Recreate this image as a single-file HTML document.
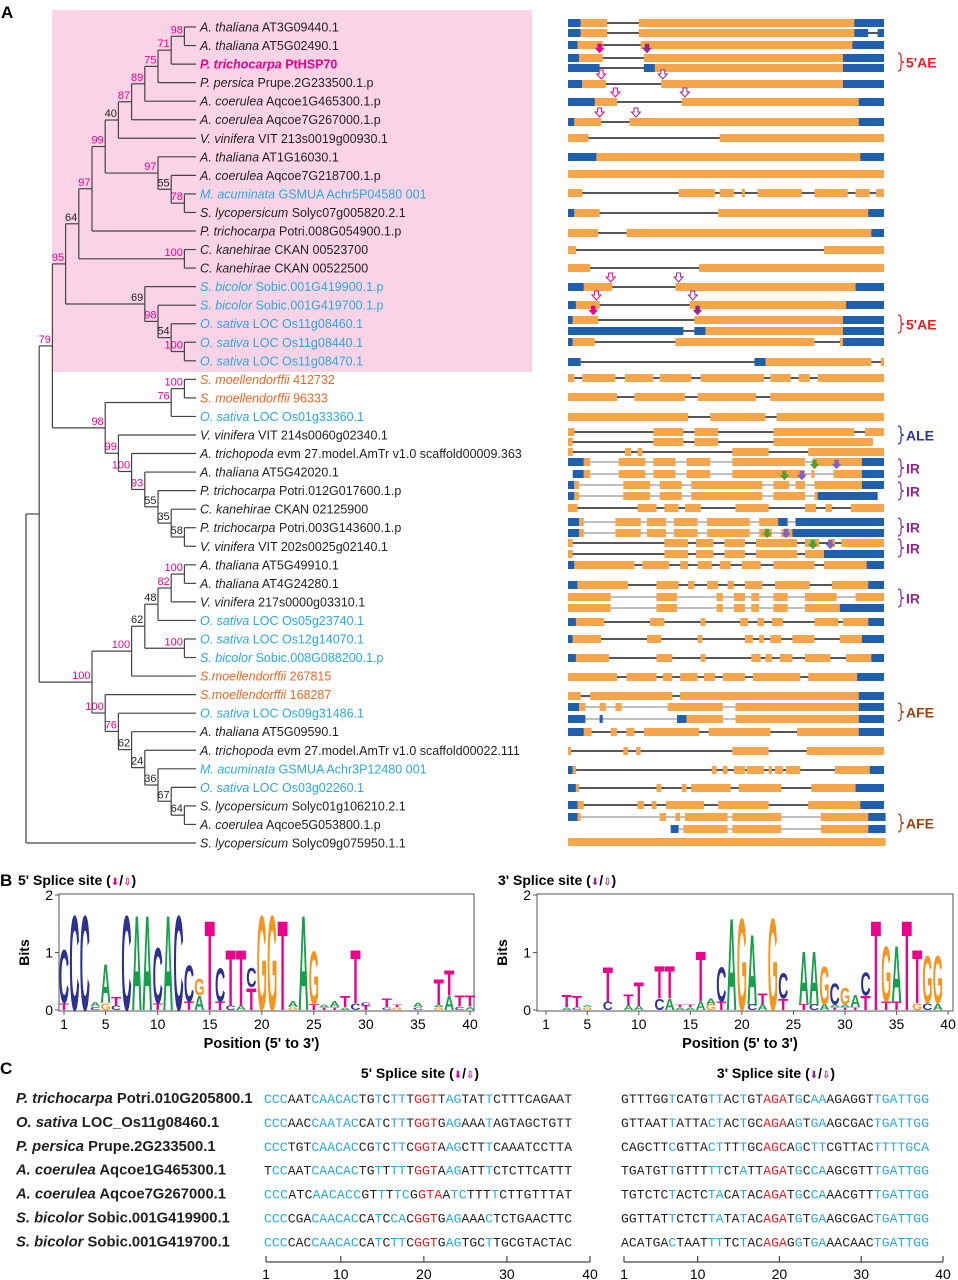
<!DOCTYPE html>
<html><head><meta charset="utf-8"><style>
html,body{margin:0;padding:0;background:#fff;}
svg{display:block;font-family:"Liberation Sans",sans-serif;}
</style></head><body>
<svg id="fig" width="958" height="1280" viewBox="0 0 958 1280" xmlns="http://www.w3.org/2000/svg">
<rect x="52" y="10" width="480" height="362" fill="#fad4e6"/>
<text x="1" y="18" font-size="17" font-weight="bold">A</text>
<g id="tree"></g>
<g id="genes"></g>
<g id="annots"></g>
<text x="0" y="886" font-size="17" font-weight="bold">B</text>
<text x="18" y="885" font-size="14" font-weight="bold">5' Splice site (<tspan fill="#ec008c" font-family="DejaVu Sans" font-size="10">⬇</tspan>/<tspan fill="#ec008c" font-family="DejaVu Sans" font-size="10">⇩</tspan>)</text>
<text x="498" y="885" font-size="14" font-weight="bold">3' Splice site (<tspan fill="#92278f" font-family="DejaVu Sans" font-size="10">⬇</tspan>/<tspan fill="#92278f" font-family="DejaVu Sans" font-size="10">⇩</tspan>)</text>
<g id="logo1"></g>
<g id="logo2"></g>
<text x="0" y="1074" font-size="17" font-weight="bold">C</text>
<text x="420" y="1078" font-size="14" font-weight="bold" text-anchor="middle">5' Splice site (<tspan fill="#ec008c" font-family="DejaVu Sans" font-size="10">⬇</tspan>/<tspan fill="#ec008c" font-family="DejaVu Sans" font-size="10">⇩</tspan>)</text>
<text x="776" y="1078" font-size="14" font-weight="bold" text-anchor="middle">3' Splice site (<tspan fill="#92278f" font-family="DejaVu Sans" font-size="10">⬇</tspan>/<tspan fill="#92278f" font-family="DejaVu Sans" font-size="10">⇩</tspan>)</text>
<g id="seqs"></g>
</svg>
<script>
const NS="http://www.w3.org/2000/svg";
function mk(parent,tag,attrs,txt){const e=document.createElementNS(NS,tag);for(const k in attrs)e.setAttribute(k,attrs[k]);if(txt!==undefined)e.textContent=txt;parent.appendChild(e);return e;}

// ---------- TREE DATA ----------
const leafSpecies=["A. thaliana","A. thaliana","P. trichocarpa","P. persica","A. coerulea","A. coerulea","V. vinifera","A. thaliana","A. coerulea","M. acuminata","S. lycopersicum","P. trichocarpa","C. kanehirae","C. kanehirae","S. bicolor","S. bicolor","O. sativa","O. sativa","O. sativa","S. moellendorffii","S. moellendorffii","O. sativa","V. vinifera","A. trichopoda","A. thaliana","P. trichocarpa","C. kanehirae","P. trichocarpa","V. vinifera","A. thaliana","A. thaliana","V. vinifera","O. sativa","O. sativa","S. bicolor","S.moellendorffii","S.moellendorffii","O. sativa","A. thaliana","A. trichopoda","M. acuminata","O. sativa","S. lycopersicum","A. coerulea","S. lycopersicum"];
const leafIds=["AT3G09440.1","AT5G02490.1","PtHSP70","Prupe.2G233500.1.p","Aqcoe1G465300.1.p","Aqcoe7G267000.1.p","VIT 213s0019g00930.1","AT1G16030.1","Aqcoe7G218700.1.p","GSMUA Achr5P04580 001","Solyc07g005820.2.1","Potri.008G054900.1.p","CKAN 00523700","CKAN 00522500","Sobic.001G419900.1.p","Sobic.001G419700.1.p","LOC Os11g08460.1","LOC Os11g08440.1","LOC Os11g08470.1","412732","96333","LOC Os01g33360.1","VIT 214s0060g02340.1","evm 27.model.AmTr v1.0 scaffold00009.363","AT5G42020.1","Potri.012G017600.1.p","CKAN 02125900","Potri.003G143600.1.p","VIT 202s0025g02140.1","AT5G49910.1","AT4G24280.1","217s0000g03310.1","LOC Os05g23740.1","LOC Os12g14070.1","Sobic.008G088200.1.p","267815","168287","LOC Os09g31486.1","AT5G09590.1","evm 27.model.AmTr v1.0 scaffold00022.111","GSMUA Achr3P12480 001","LOC Os03g02260.1","Solyc01g106210.2.1","Aqcoe5G053800.1.p","Solyc09g075950.1.1"];
const leafGroup=("kkpkkkkkkb"+"kkkkbbbbbo"+"obkkkkkkkk"+"kkbbboobkk"+"bbkkk").split("");
// [firstLeaf, lastLeaf, depthLevel, bootstrap]
const treeNodes=[[0,44,0,""],[0,43,1,""],[0,28,2,"79"],[0,18,3,"95"],[0,13,4,"64"],[0,11,5,"97"],[0,10,6,"99"],[0,6,7,"40"],[0,5,8,"87"],[0,4,9,"89"],[0,3,10,"75"],[0,2,11,"71"],[0,1,12,"98"],[7,10,10,"97"],[8,10,11,"55"],[9,10,12,"78"],[12,13,12,"100"],[14,18,9,"69"],[15,18,10,"98"],[16,18,11,"54"],[17,18,12,"100"],[19,28,6,"98"],[19,21,11,"76"],[19,20,12,"100"],[22,28,7,"99"],[23,28,8,"100"],[24,28,9,"93"],[25,28,10,"55"],[26,28,11,"35"],[27,28,12,"58"],[29,43,5,"100"],[29,35,8,"100"],[29,34,9,"62"],[29,32,10,"48"],[29,31,11,"82"],[29,30,12,"100"],[33,34,12,"100"],[36,43,6,"100"],[37,43,7,"76"],[38,43,8,"62"],[39,43,9,"24"],[40,43,10,"36"],[41,43,11,"67"],[42,43,12,"64"]];

const leafY=i=>27+i*18.545;
const depthX=l=>26+l*13.2;
const LEAFX=196;
(function(){
  const g=document.getElementById('tree');
  const colors={k:"#231f20",p:"#ec008c",b:"#27aae1",o:"#f26522"};
  function children(n){
    const ch=[];let i=n[0];
    while(i<=n[1]){
      let best=null;
      for(const m of treeNodes){if(m!==n&&m[0]===i&&m[1]<=n[1]&&(m[1]-m[0])<(n[1]-n[0])){if(!best||m[1]>best[1])best=m;}}
      if(best){ch.push(best);i=best[1]+1;}else{ch.push(i);i++;}
    }
    return ch;
  }
  function draw(n){
    const ch=children(n);const x=depthX(n[2]);
    const ys=ch.map(c=>typeof c==="number"?leafY(c):draw(c));
    const y=(ys[0]+ys[ys.length-1])/2;
    const v=mk(g,'line',{x1:x,x2:x,y1:ys[0],y2:ys[ys.length-1],stroke:"#444","stroke-width":1.2});
    
    
    ch.forEach((c,k)=>{const cx=typeof c==="number"?LEAFX:depthX(c[2]);
      const h=mk(g,'line',{x1:x,x2:cx,y1:ys[k],y2:ys[k],stroke:"#444","stroke-width":1.2});
      
      });
    if(n[3]){const t=mk(g,'text',{x:x-1.5,y:y-3,"font-size":11,"text-anchor":"end",fill:(parseInt(n[3])>=70?"#ec008c":"#231f20")},n[3]);
      
      }
    return y;
  }
  draw(treeNodes[0]);
  leafIds.forEach((id,i)=>{
    const c=colors[leafGroup[i]];
    const t=mk(g,'text',{x:200,y:leafY(i)+4.5,"font-size":12.5,fill:c,"font-weight":leafGroup[i]==="p"?"bold":"normal"});
    
    
    mk(t,'tspan',{"font-style":"italic"},leafSpecies[i]);
    mk(t,'tspan',{}," "+id);
  });
})();

// ---------- GENE STRUCTURES ----------
const geneRowY=[23,33,45,58,68,84,102,122,138,157,174,193,213,233,250,268,287,305,320,331,342,362,378,397,417,432,442,452,462,474,485,496,508,522,533,543,554,565,585,597,608,622,639,658,677,696,707,719,732,751,770,788,805,817,829,842];
const geneSegs=[
"b0-4 o4-12.4 o22.4-90.6 b90.6-100","b0-4 o4-12.4 o22.4-90.6 b90.6-95 b98-100","b0-3 o3-11 o23-90 b90-100","b0-3.5 o3.5-11 o24-87 b87-100","b0-10 b24-27.5 o27.5-87 b87-100","b0-4.5 o4.5-12 o29.5-87 b87-100","b0-8.5 o8.5-15.5 o36-92 b92-100","b0-2 o2-10.5 o19.5-92 b92-100","o0-6.5 o48-100","b0-9 o9-92.5 b92.5-100","o0-100",
"o0-4.5 o35-46.5 o48-52.5 o55-56 o60-74 o78-88.5 o91-95.5 o97.5-100","b0-2 o2-10 o47.5-95 b95-100","o0-9.5 o18.5-96 b96-100","o0-2.5 o81-100","o0-7 o41.5-100","b0-5 o5-14 o34-91 b91-100","b0-2.5 o2.5-10 o38.5-88 b88-100","b0-1.5 o1.5-9.5 o40-87 b87-100","b0-36.5 b40-43.5 o43.5-87 b87-100","b0-1.5 o1.5-8.5 o34-78 o86-87 b87-100",
"b0-4 b59-62.5 o62.5-96 o99-100","o0-2 o4.5-15 o18-27 o29-39 o42-62 o64-70.5 o73-76.5 o79-100","o0-15.5 o21-37 o41-59.5 o64-100","o0-38 o45-62.5 o66-100",
"o0-2 o27-36.5 o40-47.5 o65-90.5 o94-100","o0-1.5 o27-36.5 o40-47.5 o65-96.5","o0-1.5 o18-20 o22-23.5 o52-63.5 o76-100",
"b0-5 o5-7 o16-24.5 o27-34 o37.5-45 o52-75 o77.5-93 b93-100","b1.5-5 o5-7 o16-24.5 o27-34 o37.5-45 o52-75 o77-78 o84-93 b93-100","b0-2 o2-3.5 o17.5-26 o29-36 o39-61.5 o65-70 o72-75 o78-93 b93-100","b0-2 o2-3.5 o17.5-26 o29-36 o39-61.5 o65-75 o78-79 b79-98",
"o0-3 o22-28 o30.5-35 o37-42 o53-63.5 o75-78.5 o81.5-83.5 o89.5-100","b0-3.5 o3.5-5 o15-23 o25-31 o33.5-41 o44-57.5 o60.5-66.5 b66.5-69.5 b72-100","b0-3.5 o3.5-5 o15-23 o25-31 o33.5-41 o44-57.5 o60.5-64.5 o67.5-71 b71-100",
"o0-1.5 o30.5-38 o40.5-46 o49.5-56 o59.5-72.5 o75-79.5 o82.5-84.5 o86.5-100","o0-1.5 o30.5-38 o40.5-46 o49.5-56 o59.5-72.5 o75-81 b81-100",
"b0-2 o2-21 o23.5-32 o35.5-38 o41-45.5 o48-51.5 o55-61 o65-78 o81-94.5 b94.5-100","b0-3 o3-19 o28-35 o38-40 o44-47.5 o50.5-52.5 o56-61.5 o65.5-76.5 o83.5-95 b95-100",
"o0-13.5 o28-34.5 o47-49 o52.5-56 o58-60.5 o65-69.5 o75-85 o91-100","o0-13.5 o28-34.5 o47-49 o52.5-56 o58-60.5 o65-69.5 o75-86 b86-100",
"b0-2.5 o2.5-11.5 o26-30.5 o42-43.5 o54.5-57 o60-62 o64.5-68 o78-85.5 o87-95 b95-100","b0-1.5 o1.5-10.5 o25-29.5 o41-42.5 o56-58.5 o60.5-62 o64-67.5 o71-78 o86-93 b93-100","b0-2.5 o2.5-13 o28-33 o42-43.5 o58-61 o62.5-64.5 o67-71 o75-83 o88-96 b96-100",
"o0-15.5 o18.5-28 o30-33 o35.5-41 o43-46.5 o49-56 o58.5-73.5 o76-91.5 b91.5-100","o0-4 o7-33 o35.5-92 b92-100","b0-3.5 o3.5-5.5 o10-12 o15-17 o31.5-49 o53-92 b92-100","b0-5.5 b10-11 b34.5-37.5 o37.5-49 o53-92 b92-100",
"b0-5 o5-7.5 o13.5-15.5 o18.5-21 o24-41.5 o44.5-64 o72.5-92 b92-100","o0-1 o17.5-19 o21.5-23 o52-63.5 o75.5-100","b0-1.5 o1.5-2.5 o45.5-47 o49-50.5 o52.5-56 o56.5-62 o63.5-64.5 o65.5-68 o69-73.5 o84.5-95.5 b95.5-100",
"b0-2.5 o2.5-3.5 o28-29.5 o36-37.5 o39-51.5 o54-67.5 o77-91 b91-100","b0-3 o3-5 o22-24 o26.5-28 o31-43 o47.5-63.5 o76-92.5 b92.5-100","b0-3 o3-4 o29-31 o34-35.5 o37-50.5 o52-67.5 o80-95 b95-100.5","b32.5-35 o36.5-50.5 o52-67.5 o80-95 b95-100.5","o0-100.5"];
const greyIntronRows=[28,29,30,31,33,34,39,40,46,47,53,54];
// [positionPct, rowIndex, kind]  kind: p=pink filled, q=purple filled, P=pink hollow, Q=purple hollow, g=green, v=violet
const spliceArrows=[[10,3,"p"],[25,3,"q"],[10.5,5,"P"],[30,5,"Q"],[15,6,"P"],[37,6,"Q"],[10,7,"P"],[21.5,7,"Q"],[13.5,16,"P"],[35,16,"Q"],[9,17,"P"],[39.5,17,"Q"],[8,18,"p"],[41,18,"q"],[78,29,"g"],[85,29,"v"],[68.5,30,"g"],[74,30,"v"],[63,35,"g"],[69,35,"v"],[77.5,36,"g"],[83,36,"v"]];
const annotLabels=["5'AE","5'AE","ALE","IR","IR","IR","IR","IR","AFE","AFE"];
const annotY=[62,324,435,468,491,527,548,598,712,823];
const annotKind=["r","r","n","m","m","m","m","m","br","br"];

const gx=p=>568+p*3.16;
(function(){
  const g=document.getElementById('genes');
  const col={b:"#1f5fad",o:"#f7a54a"};
  geneSegs.forEach((s,i)=>{
    const y=geneRowY[i];
    const segs=s.split(" ").map(t=>{const [a,b]=t.slice(1).split("-").map(Number);return {t:t[0],a,b};});
    const row=mk(g,'g',{});
    
    
    const grey=greyIntronRows.includes(i);
    mk(row,'line',{x1:gx(segs[0].a),x2:gx(segs[segs.length-1].b),y1:y,y2:y,stroke:grey?"#999":"#231f20","stroke-width":grey?1.2:1.5});
    segs.forEach(sg=>{const r=mk(row,'rect',{x:gx(sg.a),y:y-4,width:Math.max(1,gx(sg.b)-gx(sg.a)),height:8,fill:col[sg.t]});
      
      });
  });
  const acol={p:"#ec008c",q:"#92278f",P:"#ec008c",Q:"#92278f",g:"#5b9a32",v:"#8560c0"};
  spliceArrows.forEach(a=>{
    const x=gx(a[0]),y=geneRowY[a[1]]-8;
    const hollow=(a[2]==="P"||a[2]==="Q");
    const d=`M${x-2} ${y-6} L${x+2} ${y-6} L${x+2} ${y-2} L${x+4.5} ${y-2} L${x} ${y+3} L${x-4.5} ${y-2} L${x-2} ${y-2} Z`;
    const p=mk(g,'path',{d,fill:hollow?"#fff":acol[a[2]],stroke:acol[a[2]],"stroke-width":hollow?1:0.5});
    
    
  });
  const ga=document.getElementById('annots');
  const acols={r:"#ed1c24",n:"#2e3192",m:"#92278f",br:"#a0410d"};
  annotLabels.forEach((l,i)=>{
    const y=annotY[i],c=acols[annotKind[i]];
    const br=mk(ga,'path',{d:`M898 ${y-9} Q901 ${y-9} 901 ${y-5} L901 ${y-2} Q901 ${y} 904 ${y} Q901 ${y} 901 ${y+2} L901 ${y+5} Q901 ${y+9} 898 ${y+9}`,fill:"none",stroke:c,"stroke-width":1.2});
    
    
    const t=mk(ga,'text',{x:906,y:y+5.5,"font-size":14,"font-weight":"bold",fill:c},l);
    
    
  });
})();

// ---------- LOGOS ----------
const logo5=["T.12 C.95","C1.7","C1.7","C.06 A.08","G.12 A.7","C.08 T.15","C1.7","A1.7","A1.7","T.12 C1.0","A1.7","C1.7","T.15 C.65","A.25 G.3","T1.6","T.15 C.6","C.08 T1.0","A.08 T1.0","T.4 C.35","G1.7","G1.7","T1.6","G.05 A.1","A1.7","T.1 G.95","T.05 A.05","T.05 A.1","A.05 T.2","C.12 T.95","T.08 C.06","","C.05 T.15","G.05 T.04","","C.05 A.08","","G.05 A.05 T.45","A.25 T.45","C.06 T.2","A.06 T.2"];
const logo3=["","","A.05 T.22","C.05 T.2","G.05 A.03","","C.15 T.62","","A.08 T.2","A.08 T.42","","C.2 T.58","A.2 T.58","A.05 T.05","A.05 T.05","A.15 T.9","G.1 A.1","T.15 C.62","A1.65","G1.65","C.1 A1.25","A.1 T.2","G1.65","T.2 C.45","","T.1 A.95","C.1 A.95","A.1 G.68","T.05 A.05 C.38","T.05 A.05 G.3","T.05 A.22","T.25 C.42","T1.6","T.15 G1.0","T.15 A1.0","T1.6","G.12 T.95","C.12 G.85","A.12 G.85",""];
const logoYTicks=["0","1","2"];
const logoXTicks=[1,5,10,15,20,25,30,35,40];
function drawLogo(gid,data,cfg){
  const g=document.getElementById(gid);
  const ys=b=>cfg.y0-b*cfg.ppb;
  const xs=p=>cfg.x1+(p-1)*cfg.step;
  const box=mk(g,'rect',{x:cfg.bx0,y:ys(2)-1,width:cfg.bx1-cfg.bx0,height:cfg.y0-ys(2)+2,fill:"none",stroke:"#555","stroke-width":1});
  
  
  const lc={A:"#17a04b",C:"#2e3192",G:"#f7941d",T:"#ec008c"};
  const lw={A:70,C:72,G:78,T:61};
  data.forEach((s,i)=>{
    if(!s)return;let base=0;
    s.split(" ").forEach(tok=>{
      const L=tok[0],h=parseFloat(tok.slice(1));
      const px=h*cfg.ppb,w=cfg.step*0.98;
      const t=mk(g,'text',{x:0,y:0,"font-size":100,"font-weight":"bold",fill:lc[L],textLength:lw[L],lengthAdjust:"spacingAndGlyphs",
        transform:`translate(${xs(i+1)-w/2},${ys(base)}) scale(${w/lw[L]},${px/72})`},L);
      
      
      base+=h;
    });
  });
  logoYTicks.forEach(v=>{
    const y=ys(parseFloat(v));
    mk(g,'line',{x1:cfg.bx0-4,x2:cfg.bx0,y1:y,y2:y,stroke:"#555"});
    const t=mk(g,'text',{x:cfg.bx0-6,y:y+5,"font-size":14,"text-anchor":"end"},v);
    
    
  });
  logoXTicks.forEach(p=>{
    const x=xs(p);
    mk(g,'line',{x1:x,x2:x,y1:cfg.y0+1,y2:cfg.y0+5,stroke:"#555"});
    const t=mk(g,'text',{x:x,y:cfg.y0+19,"font-size":14,"text-anchor":"middle"},String(p));
    
    
  });
  const yt=mk(g,'text',{x:0,y:0,"font-size":14,"font-weight":"bold","text-anchor":"middle",transform:`translate(${cfg.bx0-30},${ys(1)}) rotate(-90)`},"Bits");
  
  
  const xt=mk(g,'text',{x:(cfg.bx0+cfg.bx1)/2-5,y:cfg.y0+38,"font-size":14.5,"font-weight":"bold","text-anchor":"middle"},"Position (5' to 3')");
  
  
}
drawLogo('logo1',logo5,{x1:64,step:10.41,y0:1010,ppb:57.5,bx0:59,bx1:474});
drawLogo('logo2',logo3,{x1:546,step:10.31,y0:1010,ppb:57.5,bx0:537,bx1:953});

// ---------- SEQUENCES ----------
const seqSpecies=["P. trichocarpa","O. sativa","P. persica","A. coerulea","A. coerulea","S. bicolor","S. bicolor"];
const seqIds=["Potri.010G205800.1","LOC_Os11g08460.1","Prupe.2G233500.1","Aqcoe1G465300.1","Aqcoe7G267000.1","Sobic.001G419900.1","Sobic.001G419700.1"];
const seq5=["CCCAATCAACACTGTCTTTGGTTAGTATTCTTTCAGAAT","CCCAACCAATACCATCTTTGGTGAGAAATAGTAGCTGTT","CCCTGTCAACACCGTCTTCGGTAAGCTTTCAAATCCTTA","TCCAATCAACACTGTTTTTGGTAAGATTTCTCTTCATTT","CCCATCAACACCGTTTTCGGTAATCTTTTCTTGTTTAT","CCCCGACAACACCATCCACGGTGAGAAACTCTGAACTTC","CCCCACCAACACCATCTTCGGTGAGTGCTTGCGTACTAC"];
const seq3=["GTTTGGTCATGTTACTGTAGATGCAAAGAGGTTGATTGG","GTTAATTATTACTACTGCAGAAGTGAAGCGACTGATTGG","CAGCTTCGTTACTTTTGCAGCAGCTTCGTTACTTTTGCA","TGATGTTGTTTTTCTATTAGATGCCAAGCGTTTGATTGG","TGTCTCTACTCTACATACAGATGCCAAACGTTTGATTGG","GGTTATTCTCTTATATACAGATGTGAAGCGACTGATTGG","ACATGACTAATTTTCTACAGAGGTGAAACAACTGATTGG"];
const mask5="bbbkkkbbbbbbkkbkbbkrrrkbbkkkbkkkkkkkkkkk";
const mask3="kkkkkkbkkkkbbkkbkkrrrkbkbbkkkkkkbbbbbbbk";
const seqAxisTicks=[1,10,20,30,40];
(function(){
  const g=document.getElementById('seqs');
  const cc={b:"#27aae1",r:"#ed1c24",k:"#231f20"};
  function seqRow(str,mask,x0,y,i,name){
    const t=mk(g,'text',{x:x0,y:y,"font-size":13,"font-family":"Liberation Mono, monospace",textLength:308,lengthAdjust:"spacing"});
    
    
    let m=mask; if(name==="seq5-row"&&i===3) m="k"+mask.slice(1);
    for(let k=0;k<str.length;k++){mk(t,'tspan',{fill:cc[m[k]||"k"]},str[k]);}
  }
  seqIds.forEach((id,i)=>{
    const y=1103+i*23.9;
    const t=mk(g,'text',{x:16,y:y,"font-size":14.8,"font-weight":"bold",fill:"#231f20"});
    
    
    mk(t,'tspan',{"font-style":"italic"},seqSpecies[i]);
    mk(t,'tspan',{}," "+id);
    seqRow(seq5[i],mask5,264,y,i,"seq5-row");
    seqRow(seq3[i],mask3,621,y,i,"seq3-row");
  });
  function axis(x1,x40){
    const xs=p=>x1+(p-1)*(x40-x1)/39;
    const a=mk(g,'line',{x1:x1,x2:x40,y1:1262,y2:1262,stroke:"#444","stroke-width":1.2});
    
    
    seqAxisTicks.forEach(p=>{
      mk(g,'line',{x1:xs(p),x2:xs(p),y1:1256,y2:1262,stroke:"#444","stroke-width":1.2});
      const t=mk(g,'text',{x:xs(p),y:1279,"font-size":14,"text-anchor":"middle"},String(p));
      
      
    });
  }
  axis(266,590);
  axis(624,943);
})();
</script>
</body></html>
